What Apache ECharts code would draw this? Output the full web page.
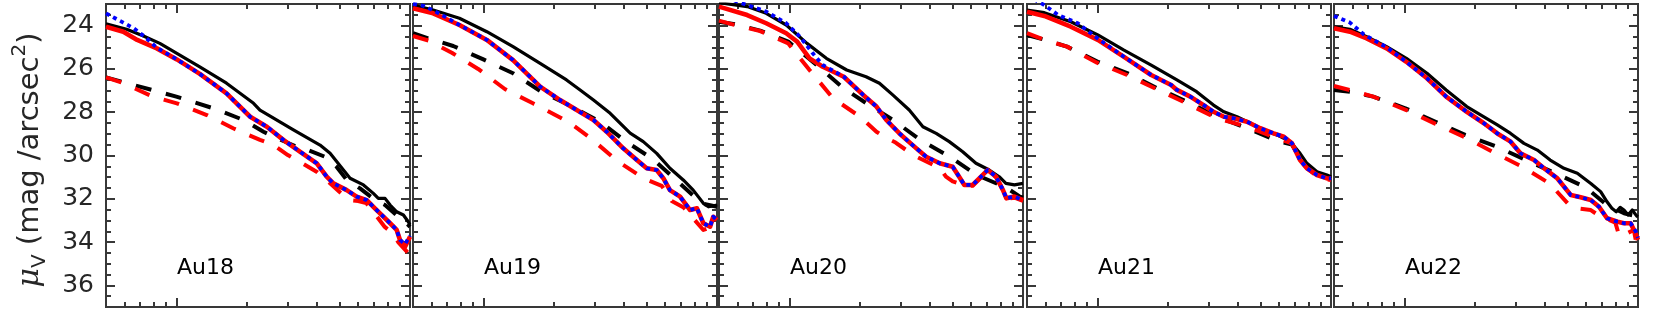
<!DOCTYPE html>
<html><head><meta charset="utf-8">
<script src="https://cdn.jsdelivr.net/npm/echarts@6/dist/echarts.min.js"></script>
<style>html,body{margin:0;padding:0;background:#fff}#c{width:1661px;height:314px}</style>
</head><body><div id="c"></div>
<script>
// ---------- DATA (R in kpc, mu_V in mag/arcsec^2) ----------
const panelNames = ['Au18', 'Au19', 'Au20', 'Au21', 'Au22'];
const yMajorTicks = [24, 26, 28, 30, 32, 34, 36];
const xMinorTicks = [6, 7, 8, 9, 20, 30, 40, 50, 60, 70, 80, 90];
const xMajorTicks = [10];

// Au18
const au18_blackSolid = [[5,23.92],[6.13,24.17],[7.23,24.48],[8.5,24.82],[10.05,25.28],[12.6,25.9],[16.4,26.66],[21.4,27.59],[22.8,27.9],[31.7,28.82],[41.2,29.52],[45.5,29.9],[51.9,30.67],[55.4,31.05],[63.2,31.36],[69.7,31.75],[73.2,31.98],[78.2,31.98],[82.2,32.29],[87.7,32.6],[93.7,32.75],[98.3,33.06],[100,33.2]];
const au18_blackDashed = [[5,26.39],[10,27.28],[14.4,27.82],[19.4,28.36],[23.6,28.9],[26.9,29.2],[32.7,29.59],[36.7,29.75],[43.3,30.06],[48.5,30.52],[53.6,31.13],[61.1,31.52],[70.9,32.06],[78.2,32.29],[89.1,32.83],[98.3,33.21],[100,33.3]];
const au18_redSolid = [[5,24.05],[5.93,24.28],[6.8,24.66],[8.25,25.05],[10.05,25.56],[12.6,26.23],[16.4,27.13],[20.7,28.21],[24.4,28.67],[28.7,29.28],[33.9,29.83],[39.9,30.36],[44,30.98],[47,31.29],[53.6,31.6],[59.1,31.9],[65.3,32.06],[69.7,32.37],[74.4,32.67],[82.2,33.13],[87.7,33.44],[90.6,33.9],[95.2,34.22],[100,33.75]];
const au18_redDashed = [[5,26.39],[5.85,26.63],[7.94,27.28],[10.05,27.59],[13.5,28.13],[17.5,28.74],[22.8,29.28],[25.9,29.5],[30,29.98],[34.5,30.35],[40,30.76],[44.6,31.2],[50,31.69],[55,32.06],[60,32.1],[65,32.2],[69.6,32.6],[78,33.3],[84.5,33.6],[89,34.0],[98,34.5],[100,34.55]];
const au18_blueDotted = [[5,23.43],[5.47,23.66],[5.93,23.86],[6.56,24.12],[7.3,24.5],[8.25,25.02],[10.05,25.56],[12.6,26.23],[16.4,27.13],[20.7,28.21],[24.4,28.67],[28.7,29.28],[33.9,29.83],[39.9,30.36],[44,30.98],[47,31.29],[53.6,31.6],[59.1,31.9],[65.3,32.06],[69.7,32.37],[74.4,32.67],[82.2,33.13],[87.7,33.44],[90.6,33.9],[95.2,34.1],[100,33.7]];

// Au19
const au19_blackSolid = [[5,23.05],[6.1,23.28],[7.9,23.66],[10.35,24.28],[13.4,24.97],[17.5,25.74],[22.7,26.51],[25.95,26.97],[29.6,27.44],[34.9,28.05],[42.5,28.97],[48.35,29.36],[55.2,29.9],[62.9,30.59],[71.7,31.13],[79.1,31.6],[87.4,32.21],[91.9,32.37],[100,32.29]];
const au19_blackDashed = [[5,24.35],[5.83,24.59],[7.43,24.94],[10,25.56],[13.4,26.2],[17.7,27.05],[23.9,27.74],[31.6,28.44],[40.8,29.36],[53.4,30.18],[67.3,31.16],[85.9,32.21],[100,32.37]];
const au19_redSolid = [[5,23.2],[6.1,23.43],[7.9,23.97],[10.35,24.66],[13.4,25.59],[17.5,26.82],[21.3,27.44],[25.1,27.9],[29.6,28.36],[33.7,28.9],[39.7,29.67],[45.4,30.21],[50,30.59],[55.2,30.67],[58.9,31.05],[62.9,31.6],[69.5,31.9],[76.7,32.52],[82.1,32.44],[87.4,33.13],[93.4,33.29],[96.4,32.83],[100,32.98]];
const au19_redDashed = [[5,24.48],[5.83,24.69],[7.33,25.25],[9.5,26.0],[12.4,26.94],[16.3,27.59],[21.6,28.28],[23.6,28.51],[28.8,29.2],[37.3,30.24],[48.7,31.06],[58,31.4],[61,31.75],[64,32.1],[72,32.4],[79.1,32.9],[87.4,33.44],[95,33.29],[100,33.06]];
const au19_blueDotted = [[5,23.0],[5.6,23.1],[6.5,23.45],[7.9,23.97],[10.35,24.66],[13.4,25.59],[17.5,26.82],[21.3,27.44],[25.1,27.9],[29.6,28.36],[33.7,28.9],[39.7,29.67],[45.4,30.21],[50,30.59],[55.2,30.67],[58.9,31.05],[62.9,31.6],[69.5,31.9],[76.7,32.52],[82.1,32.44],[87.4,33.13],[93.4,33.29],[96.4,32.83],[100,32.98]];

// Au20
const au20_blackSolid = [[5,22.94],[6.6,23.12],[7.96,23.43],[9.7,23.97],[11.9,24.82],[14.4,25.51],[17.6,26.05],[21.3,26.36],[24.3,26.66],[27.7,27.2],[32.6,27.9],[37.3,28.67],[42.5,28.98],[48.35,29.36],[55.2,29.83],[62.9,30.36],[71.7,30.67],[79.1,30.98],[84.5,31.29],[91.9,31.36],[100,31.29]];
const au20_blackDashed = [[5,23.82],[5.76,23.92],[7.5,24.23],[9.9,24.74],[13.1,25.82],[17.1,26.9],[21.4,27.59],[27.8,28.36],[36.3,29.28],[48.7,30.06],[63.3,30.9],[79.7,31.36],[88,31.6],[97,31.9],[100,31.95]];
const au20_redSolid = [[5,23.12],[6.6,23.51],[7.96,23.89],[9.7,24.35],[10.8,24.74],[12.2,25.51],[13.9,25.9],[17.1,26.36],[20.7,27.2],[23.6,27.74],[26,28.36],[29.6,28.98],[33.7,29.52],[38.5,30.06],[44,30.36],[50,30.52],[53.3,30.98],[56.1,31.36],[60.9,31.36],[65,31.06],[70.6,30.67],[76.7,30.98],[82.1,31.6],[84.9,31.98],[91.9,31.9],[100,32.06]];
const au20_redDashed = [[5,23.77],[5.76,23.95],[7.5,24.25],[9.9,24.82],[12.2,26.05],[15.4,27.36],[20.1,28.21],[23.6,28.9],[26.1,29.2],[28.5,29.4],[33.9,29.98],[44.2,30.59],[46.8,30.98],[50,31.2],[53.3,31.3],[56.1,31.4],[60.9,31.4],[65,31.1],[70.6,30.7],[76.7,31.0],[82.1,31.6],[84.9,32.0],[91.9,31.95],[100,32.1]];
const au20_blueDotted = [[5,22.6],[6.6,23.05],[7.96,23.35],[9.7,23.89],[11.1,24.51],[12.6,25.28],[13.9,25.82],[17.1,26.36],[20.7,27.2],[23.6,27.74],[26,28.36],[29.6,28.98],[33.7,29.52],[38.5,30.06],[44,30.36],[50,30.52],[53.3,30.98],[56.1,31.36],[60.9,31.36],[65,31.06],[70.6,30.67],[76.7,30.98],[82.1,31.6],[84.9,31.98],[91.9,31.9],[100,32.06]];

// Au21
const au21_blackSolid = [[5,23.28],[5.93,23.4],[7.7,23.82],[10.05,24.43],[13,25.13],[17,25.82],[21.9,26.51],[26.6,27.05],[31.4,27.67],[34.8,27.98],[39.6,28.21],[45.2,28.51],[51.5,28.82],[58.7,29.05],[66.9,29.36],[73.7,29.9],[78.9,30.36],[87.1,30.75],[96.1,30.9],[100,30.98]];
const au21_blackDashed = [[5,24.43],[5.85,24.63],[7.42,24.97],[10.05,25.67],[13.5,26.2],[18.1,26.9],[24.2,27.51],[32.5,28.21],[43.7,28.74],[58.7,29.32],[68.1,29.5],[73.7,30.13],[81.7,30.67],[93,30.98],[100,31.06]];
const au21_redSolid = [[5,23.36],[5.93,23.55],[7.7,24.05],[10.05,24.66],[13,25.44],[17,26.28],[20.7,26.74],[21.9,26.97],[25,27.28],[28.5,27.67],[31.4,27.98],[34.8,28.21],[38.4,28.28],[43.7,28.44],[49.8,28.74],[56.8,28.98],[62.8,29.13],[68.1,29.44],[73.7,30.21],[78.9,30.59],[87.1,30.9],[96.1,31.06],[100,31.06]];
const au21_redDashed = [[5,24.35],[5.85,24.63],[7.42,24.97],[9.97,25.71],[13.4,26.28],[18,26.94],[24.2,27.6],[32.5,28.28],[43.7,28.67],[58.7,29.2],[68.1,29.44],[73.7,30.21],[78.9,30.59],[87.1,30.95],[96.1,31.1],[100,31.13]];
const au21_blueDotted = [[5,22.6],[5.93,23.05],[6.8,23.51],[8.25,23.89],[10.05,24.6],[13,25.44],[17,26.28],[20.7,26.74],[21.9,26.97],[25,27.28],[28.5,27.67],[31.4,27.98],[34.8,28.21],[38.4,28.28],[43.7,28.44],[49.8,28.74],[56.8,28.98],[62.8,29.13],[68.1,29.44],[73.7,30.21],[78.9,30.59],[87.1,30.9],[96.1,31.06],[100,31.06]];

// Au22
const au22_blackSolid = [[5,24.05],[5.85,24.17],[6.9,24.51],[8.4,24.97],[10.2,25.51],[12.5,26.2],[15.1,26.97],[18.5,27.74],[21.9,28.21],[25,28.59],[28.5,28.98],[32.5,29.44],[37.1,29.75],[42.1,30.21],[48.2,30.59],[55,30.82],[62.8,31.29],[69.2,31.67],[73.7,32.14],[77.3,32.44],[80.7,32.6],[83.9,32.4],[87.1,32.52],[90.7,32.75],[94.5,32.52],[98.8,32.8],[100,32.83]];
const au22_blackDashed = [[5,26.97],[5.85,27.05],[7.36,27.28],[10.1,27.82],[13.6,28.44],[18.2,29.05],[25,29.6],[33.6,30.24],[45.2,30.86],[59.6,31.47],[73.7,32.29],[87.1,32.67],[100,32.83]];
const au22_redSolid = [[5,24.12],[5.85,24.28],[6.9,24.59],[8.4,25.05],[10.2,25.67],[12.5,26.43],[15.1,27.28],[18.5,27.98],[21.9,28.51],[25,28.98],[28.5,29.36],[31.4,29.9],[35.9,30.21],[39.6,30.59],[45.2,31.06],[51.6,31.83],[56.8,31.93],[62.8,32.06],[68.1,32.37],[73.7,32.9],[81.7,33.06],[87.1,33.13],[93,33.13],[97.7,33.6],[100,33.9]];
const au22_redDashed = [[5,26.79],[5.95,27.0],[7.36,27.28],[10.2,27.9],[13.6,28.54],[18.2,29.16],[24.6,29.9],[32,30.52],[41.8,31.29],[51.6,32.37],[55,32.44],[62.8,32.52],[67.5,32.75],[80,33.1],[82.5,33.6],[84,33.75],[96,33.44],[98.4,34.06],[100,34.06]];
const au22_blueDotted = [[5,23.55],[5.85,23.86],[6.7,24.4],[8.4,25.0],[10.2,25.67],[12.5,26.43],[15.1,27.28],[18.5,27.98],[21.9,28.51],[25,28.98],[28.5,29.36],[31.4,29.9],[35.9,30.21],[39.6,30.59],[45.2,31.06],[51.6,31.83],[56.8,31.93],[62.8,32.06],[68.1,32.37],[73.7,32.9],[81.7,33.06],[87.1,33.13],[93,33.13],[97.7,33.5],[100,33.8]];

// ---------- LAYOUT ----------
const panelData = [
  [au18_blackSolid, au18_blackDashed, au18_redSolid, au18_redDashed, au18_blueDotted],
  [au19_blackSolid, au19_blackDashed, au19_redSolid, au19_redDashed, au19_blueDotted],
  [au20_blackSolid, au20_blackDashed, au20_redSolid, au20_redDashed, au20_blueDotted],
  [au21_blackSolid, au21_blackDashed, au21_redSolid, au21_redDashed, au21_blueDotted],
  [au22_blackSolid, au22_blackDashed, au22_redSolid, au22_redDashed, au22_blueDotted]
];
const lineStyles = [
  {color:'#000000', width:3.2, type:'solid'},
  {color:'#000000', width:4, type:[16,15]},
  {color:'#ff0000', width:4.6, type:'solid'},
  {color:'#ff0000', width:4, type:[16,15]},
  {color:'#0000ff', width:3.8, type:[4,4]}
];
const FONT = 'DejaVu Sans';
const FRAME = '#383838';
const lefts = [106, 413, 719, 1027, 1334];
const W = 304, TOP = 4, H = 303;

const grids = [], xAxes = [], yAxes = [], series = [], graphics = [];
lefts.forEach((L, i) => {
  grids.push({left: L, top: TOP, width: W, height: H, show: true, borderColor: FRAME, borderWidth: 2, backgroundColor: '#fff'});
  const xBase = {type:'log', logBase:10, min:5, max:100, gridIndex:i, axisLine:{show:false}, axisLabel:{show:false}, splitLine:{show:false}};
  [['bottom', xMinorTicks, 5], ['bottom', xMajorTicks, 9], ['top', xMinorTicks, 5], ['top', xMajorTicks, 9]].forEach(([pos, vals, len]) => {
    xAxes.push(Object.assign({}, xBase, {position: pos, axisTick:{show:true, inside:true, length:len, customValues: vals, lineStyle:{color:FRAME, width:2}}}));
  });
  const yBase = {type:'value', min:23, max:37, inverse:true, gridIndex:i, axisLine:{show:false}, splitLine:{show:false}};
  yAxes.push(Object.assign({}, yBase, {position:'left', interval:0.5, axisLabel:{show:false}, axisTick:{show:true, inside:true, length:5, lineStyle:{color:FRAME, width:2}}}));
  yAxes.push(Object.assign({}, yBase, {position:'left',
    axisLabel:{show: i === 0, customValues: yMajorTicks, fontFamily: FONT, fontSize: 25, color:'#262626', margin: 12, padding:[4,0,0,0]},
    axisTick:{show:true, inside:true, length:9, customValues: yMajorTicks, lineStyle:{color:FRAME, width:2}}}));
  yAxes.push(Object.assign({}, yBase, {position:'right', interval:0.5, axisLabel:{show:false}, axisTick:{show:true, inside:true, length:5, lineStyle:{color:FRAME, width:2}}}));
  yAxes.push(Object.assign({}, yBase, {position:'right', axisLabel:{show:false},
    axisTick:{show:true, inside:true, length:9, customValues: yMajorTicks, lineStyle:{color:FRAME, width:2}}}));

  panelData[i].forEach((d, k) => {
    series.push({type:'line', xAxisIndex: i*4, yAxisIndex: i*4, data: d, showSymbol:false, symbol:'none',
      lineStyle: Object.assign({cap:'butt', join:'round'}, lineStyles[k]), z: 2 + k, silent:true, animation:false, clip:true});
  });

  graphics.push({type:'text', x: L + 71, y: 268, style:{text: panelNames[i], font: '22px "DejaVu Sans"', fill:'#000', align:'left', verticalAlign:'middle'}, z: 100});
});

graphics.push({type:'text', x: 30, y: 160, rotation: Math.PI/2,
  style:{text:'{mu|μ}{sub|V}{n| (mag /arcsec}{sup|2}{n|)}', align:'center', verticalAlign:'middle',
    rich:{
      mu:{fontFamily:'DejaVu Serif', fontStyle:'italic', fontSize:30, fill:'#262626', lineHeight:40},
      n:{fontFamily:FONT, fontSize:29, fill:'#262626', lineHeight:40},
      sub:{fontFamily:FONT, fontSize:20, fill:'#262626', verticalAlign:'bottom', lineHeight:20},
      sup:{fontFamily:FONT, fontSize:20, fill:'#262626', verticalAlign:'top', lineHeight:20}
    }}, z:100});

const chart = echarts.init(document.getElementById('c'), null, {renderer:'canvas', width:1661, height:314});
chart.setOption({animation:false, backgroundColor:'#fff', grid: grids, xAxis: xAxes, yAxis: yAxes, series: series, graphic: graphics});
</script></body></html>
